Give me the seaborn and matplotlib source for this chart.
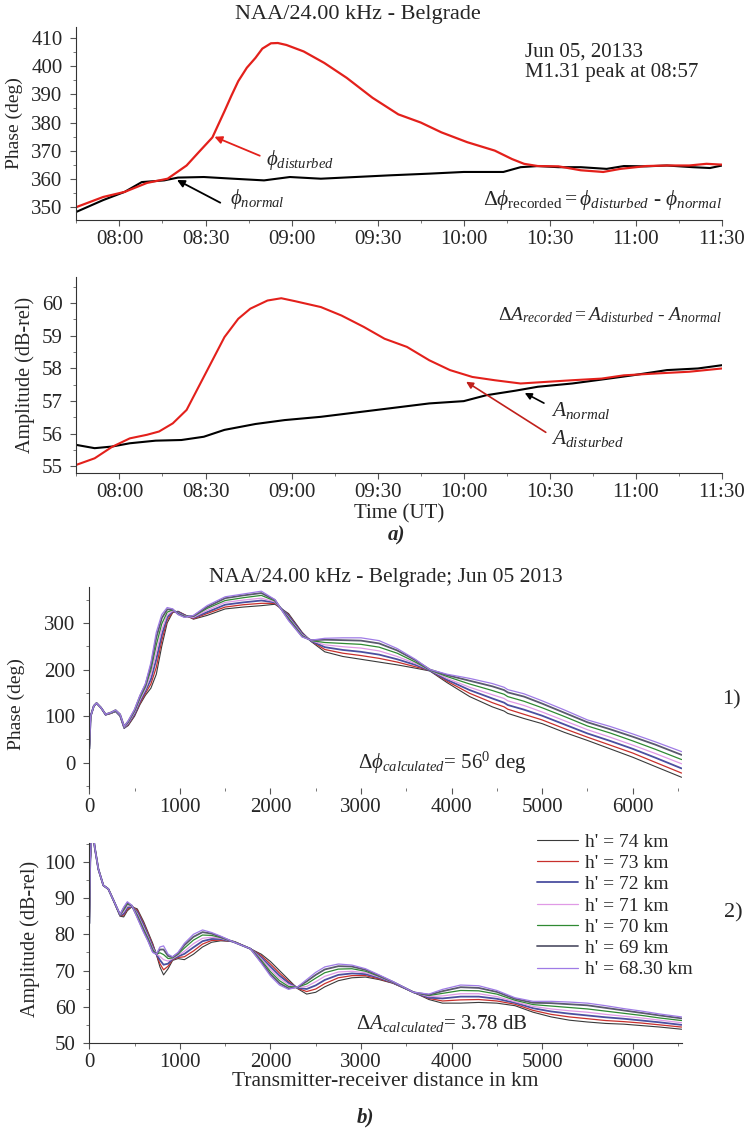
import matplotlib
matplotlib.use("Agg")
import matplotlib.pyplot as plt
import seaborn as sns
from matplotlib.ticker import MultipleLocator, FixedLocator, FixedFormatter
from matplotlib.lines import Line2D

# ---------------- data: panel a) recorded ----------------
ph_t_dist = [7.75, 7.906, 8.03, 8.16, 8.28, 8.39, 8.46, 8.54, 8.61, 8.65, 8.69, 8.74, 8.79, 8.83, 8.88, 8.92,
             8.97, 9.07, 9.19, 9.32, 9.47, 9.62, 9.75, 9.87, 10.02, 10.18, 10.28, 10.35, 10.43, 10.55, 10.68,
             10.81, 10.91, 11.06, 11.18, 11.31, 11.41, 11.5]
ph_dist = [349.9, 353.5, 355.3, 358.5, 360.0, 364.7, 369.4, 374.7, 384.0, 389.5, 394.7, 399.5, 403.0, 406.3,
           408.2, 408.3, 407.6, 405.3, 401.2, 395.9, 388.8, 382.9, 380.0, 376.5, 373.0, 370.0, 367.0, 365.3,
           364.5, 364.4, 363.0, 362.4, 363.5, 364.5, 364.7, 364.7, 365.3, 365.0]
ph_t_norm = [7.75, 7.906, 8.03, 8.13, 8.26, 8.34, 8.49, 8.66, 8.84, 8.99, 9.17, 9.37, 9.57, 9.80, 10.0,
             10.23, 10.33, 10.43, 10.55, 10.68, 10.83, 10.93, 11.06, 11.18, 11.33, 11.43, 11.5]
ph_norm = [348.2, 352.4, 355.3, 358.8, 359.4, 360.4, 360.6, 360.0, 359.4, 360.6, 360.0, 360.6, 361.2, 361.8,
           362.4, 362.4, 364.1, 364.5, 364.1, 364.1, 363.5, 364.5, 364.4, 364.7, 364.1, 363.8, 364.7]

amp_t_dist = [7.75, 7.856, 7.957, 8.06, 8.16, 8.23, 8.31, 8.39, 8.46, 8.54, 8.61, 8.69, 8.76, 8.86, 8.94,
              9.02, 9.17, 9.29, 9.42, 9.54, 9.67, 9.80, 9.92, 10.05, 10.18, 10.33, 10.48, 10.63, 10.80,
              10.93, 11.13, 11.31, 11.5]
amp_dist = [55.05, 55.25, 55.6, 55.86, 55.97, 56.07, 56.32, 56.73, 57.44, 58.25, 58.96, 59.52, 59.83, 60.08,
            60.15, 60.06, 59.88, 59.62, 59.27, 58.91, 58.66, 58.25, 57.95, 57.74, 57.64, 57.54, 57.59, 57.64,
            57.69, 57.79, 57.85, 57.9, 58.0]
amp_t_norm = [7.75, 7.856, 7.957, 8.06, 8.21, 8.36, 8.49, 8.61, 8.79, 8.96, 9.17, 9.37, 9.57, 9.80, 10.0,
              10.13, 10.30, 10.43, 10.63, 10.80, 10.98, 11.18, 11.36, 11.5]
amp_norm = [55.66, 55.56, 55.61, 55.71, 55.79, 55.81, 55.91, 56.12, 56.30, 56.42, 56.52, 56.65, 56.78, 56.93,
            57.0, 57.18, 57.32, 57.44, 57.54, 57.66, 57.79, 57.95, 58.0, 58.1]

time_ticks = [8.0, 8.5, 9.0, 9.5, 10.0, 10.5, 11.0, 11.5]
time_labels = ["08:00", "08:30", "09:00", "09:30", "10:00", "10:30", "11:00", "11:30"]

# ---------------- data: panel b) calculated ----------------
h_labels = ["74", "73", "72", "71", "70", "69", "68.30"]

dist_phase = [0, 15, 50, 80, 130, 180, 240, 290, 340, 385, 430, 500, 560, 620, 680, 740, 800, 860, 920, 980,
              1050, 1150, 1300, 1500, 1700, 1900, 2050, 2200, 2350, 2450, 2600, 2800, 3000, 3200, 3400,
              3600, 3760, 3950, 4200, 4450, 4580, 4620, 4800, 5000, 5250, 5500, 5750, 6000, 6250, 6540]
phase_74 = [30, 100, 122, 128, 118, 103, 106, 110, 100, 74, 80, 100, 125, 145, 160, 190, 250, 300, 322, 325,
            318, 308, 316, 330, 334, 337, 340, 320, 280, 260, 238, 228, 222, 216, 210, 203, 197, 172, 142, 120,
            111, 106, 95, 84, 65, 48, 30, 12, -8, -31]
phase_73 = [30, 100, 122, 128, 118, 103, 106, 111, 101, 75, 82, 103, 128, 149, 169, 205, 262, 306, 323, 324,
            317, 309, 320, 334, 339, 342, 342, 317, 278, 261, 243, 235, 230, 224, 216, 206, 198, 175, 149, 129,
            120, 115, 104, 92, 73, 55, 38, 21, 1, -22]
phase_72 = [30, 100, 122, 128, 118, 103, 107, 111, 101, 75, 84, 105, 132, 154, 179, 222, 274, 312, 325, 323,
            316, 311, 323, 339, 344, 348, 344, 315, 277, 261, 248, 242, 238, 232, 222, 210, 198, 178, 156, 138,
            129, 124, 114, 101, 82, 63, 47, 30, 11, -12]
phase_71 = [30, 100, 122, 128, 118, 104, 107, 112, 102, 76, 85, 108, 135, 158, 189, 237, 285, 317, 326, 321,
            315, 312, 327, 344, 349, 353, 345, 312, 275, 262, 253, 249, 246, 240, 228, 213, 199, 181, 162, 146,
            138, 133, 123, 109, 90, 71, 55, 38, 20, -2]
phase_70 = [30, 100, 122, 128, 118, 104, 107, 112, 103, 77, 87, 111, 139, 163, 199, 253, 298, 323, 328, 320,
            314, 314, 331, 348, 354, 359, 347, 310, 273, 262, 258, 256, 254, 248, 235, 216, 199, 185, 169, 155,
            147, 142, 132, 118, 99, 79, 64, 47, 29, 7]
phase_69 = [30, 100, 122, 128, 118, 104, 108, 113, 104, 78, 89, 113, 143, 167, 208, 269, 310, 329, 329, 319,
            313, 315, 334, 353, 359, 364, 349, 307, 271, 263, 264, 263, 262, 256, 241, 220, 200, 188, 176, 164,
            156, 151, 142, 127, 107, 87, 72, 56, 39, 17]
phase_6830 = [30, 100, 122, 128, 118, 104, 108, 113, 104, 78, 90, 115, 145, 170, 215, 280, 318, 333, 330, 318,
              312, 316, 337, 356, 362, 368, 350, 305, 270, 263, 267, 268, 268, 262, 245, 222, 200, 190, 181, 170,
              162, 157, 148, 133, 113, 92, 78, 62, 45, 24]

dist_amp = [0, 10, 30, 60, 100, 155, 210, 265, 340, 380, 420, 470, 530, 600, 650, 700, 740, 780, 820, 870,
            920, 980, 1050, 1150, 1250, 1350, 1450, 1600, 1780, 1900, 2000, 2100, 2200, 2300, 2400, 2500,
            2600, 2750, 2900, 3050, 3200, 3350, 3580, 3750, 3900, 4100, 4300, 4500, 4700, 4900, 5100, 5300,
            5500, 5700, 5900, 6100, 6300, 6540]
amp_74 = [83, 100, 110, 104, 98, 93.5, 92.5, 89.5, 85, 84.8, 86.5, 87.6, 87, 83.5, 80.5, 77.5, 74.5, 71, 68.8,
          70.5, 72.8, 73.3, 73, 74.5, 76.5, 77.8, 78.2, 78, 76, 74.5, 72.5, 70, 67.5, 65, 63.5, 64, 65.5, 67.2,
          68, 68.2, 67.5, 66.5, 64, 62, 61, 61, 61.2, 61, 60.3, 58.5, 57.2, 56.3, 55.8, 55.4, 55.2, 54.8, 54.4,
          53.8]
amp_73 = [83, 100, 110, 104, 98, 93.5, 92.5, 89.5, 85.1, 85.3, 86.9, 87.7, 86.6, 83.0, 80.1, 77.1, 74.5, 71.9,
          70.2, 71.2, 73.0, 73.6, 73.8, 75.4, 77.3, 78.3, 78.4, 78.0, 76, 74.1, 71.8, 69.3, 67.0, 65.1, 64.2,
          64.9, 66.4, 68.0, 68.6, 68.6, 67.7, 66.6, 64, 62.3, 61.6, 61.9, 62.0, 61.6, 60.7, 59.0, 57.9, 57.2,
          56.7, 56.2, 55.9, 55.5, 55.0, 54.4]
amp_72 = [83, 100, 110, 104, 98, 93.5, 92.5, 89.5, 85.2, 85.7, 87.4, 87.7, 86.1, 82.5, 79.6, 76.6, 74.5, 72.9,
          71.6, 71.9, 73.2, 73.9, 74.6, 76.4, 78.1, 78.7, 78.7, 77.9, 76, 73.6, 71.1, 68.6, 66.6, 65.2, 64.9,
          65.9, 67.4, 68.8, 69.2, 69.0, 68.0, 66.7, 64, 62.5, 62.3, 62.8, 62.8, 62.2, 61.1, 59.6, 58.7, 58.1,
          57.6, 57.1, 56.7, 56.2, 55.7, 55.0]
amp_71 = [83, 100, 110, 104, 98, 93.5, 92.5, 89.5, 85.3, 86.2, 87.8, 87.8, 85.7, 81.9, 79.2, 76.2, 74.5, 73.9,
          73.0, 72.6, 73.3, 74.2, 75.3, 77.4, 78.9, 79.2, 78.9, 77.9, 76, 73.2, 70.4, 67.9, 66.1, 65.3, 65.6,
          66.9, 68.4, 69.6, 69.8, 69.4, 68.2, 66.8, 64, 62.8, 63.0, 63.6, 63.6, 62.8, 61.4, 60.1, 59.4, 58.9,
          58.5, 57.9, 57.4, 56.9, 56.3, 55.6]
amp_70 = [83, 100, 110, 104, 98, 93.5, 92.5, 89.5, 85.3, 86.7, 88.3, 87.9, 85.3, 81.4, 78.8, 75.8, 74.5, 74.9,
          74.4, 73.3, 73.5, 74.5, 76.2, 78.4, 79.8, 79.7, 79.1, 77.9, 76, 72.8, 69.7, 67.2, 65.6, 65.4, 66.3,
          67.9, 69.4, 70.4, 70.5, 69.8, 68.4, 66.9, 64, 63.1, 63.7, 64.5, 64.4, 63.5, 61.8, 60.6, 60.2, 59.8,
          59.4, 58.8, 58.2, 57.6, 56.9, 56.2]
amp_69 = [83, 100, 110, 104, 98, 93.5, 92.5, 89.5, 85.4, 87.2, 88.7, 87.9, 84.8, 80.9, 78.3, 75.3, 74.5, 75.8,
          75.8, 74.0, 73.7, 74.8, 77.0, 79.3, 80.6, 80.2, 79.3, 77.8, 76, 72.3, 69.0, 66.5, 65.1, 65.4, 67.0,
          68.8, 70.3, 71.2, 71.1, 70.2, 68.6, 66.9, 64, 63.3, 64.3, 65.4, 65.2, 64.1, 62.2, 61.1, 61.0, 60.7,
          60.4, 59.7, 59.0, 58.3, 57.6, 56.8]
amp_6830 = [83, 100, 110, 104, 98, 93.5, 92.5, 89.5, 85.5, 87.5, 89, 88, 84.5, 80.5, 78, 75, 74.5, 76.5, 76.8,
            74.5, 73.8, 75, 77.5, 80, 81.2, 80.5, 79.5, 77.8, 76, 72, 68.5, 66, 64.8, 65.5, 67.5, 69.5, 71,
            71.8, 71.5, 70.5, 68.8, 67, 64, 63.5, 64.8, 66, 65.8, 64.5, 62.5, 61.5, 61.5, 61.3, 61, 60.3,
            59.5, 58.8, 58, 57.2]

phase_curves = [phase_74, phase_73, phase_72, phase_71, phase_70, phase_69, phase_6830]
amp_curves = [amp_74, amp_73, amp_72, amp_71, amp_70, amp_69, amp_6830]

# ---------------- style ----------------
sns.set_style("ticks")
plt.rcParams["font.family"] = ["Liberation Serif", "DejaVu Serif"]
plt.rcParams["mathtext.fontset"] = "custom"
plt.rcParams["mathtext.rm"] = "Liberation Serif"
plt.rcParams["mathtext.it"] = "Liberation Serif:italic"
plt.rcParams["mathtext.bf"] = "Liberation Serif:bold"

h_colors = ["#3a3a3a", "#c8302c", "#4b4fa0", "#e09ae6", "#2f8a32", "#5a5a6e", "#9f7be6"]
h_widths = [0.8, 0.9, 1.3, 0.9, 0.9, 1.3, 0.9]
RED = "#e3201b"
TICK_FS = 15

fig = plt.figure(figsize=(7.47, 11.28), dpi=100)
W, H = 747.0, 1128.0


def axes_px(left, top, right, bottom):
    return fig.add_axes([left / W, 1 - bottom / H, (right - left) / W, (bottom - top) / H])


ax1 = axes_px(76.4, 27, 722, 220)
ax2 = axes_px(76.4, 277, 722, 473)
ax3 = axes_px(89.3, 587, 681.6, 788)
ax4 = axes_px(89.3, 843, 681.6, 1043)

for ax in (ax1, ax2, ax3, ax4):
    for s in ("top", "right"):
        ax.spines[s].set_visible(False)
    for s in ("left", "bottom"):
        ax.spines[s].set_color("#333333")
        ax.spines[s].set_linewidth(0.8)
    ax.tick_params(which="major", direction="out", length=4, width=0.8, color="#555555",
                   labelsize=TICK_FS)
    ax.tick_params(axis="y", which="major", pad=6)
    ax.tick_params(axis="x", which="major", pad=3)
    ax.tick_params(which="minor", direction="out", length=2.5, width=0.7, color="#777777")

# ---------------- panel 1: phase ----------------
sns.lineplot(x=ph_t_norm, y=ph_norm, ax=ax1, color="black", lw=1.5, sort=False, estimator=None)
sns.lineplot(x=ph_t_dist, y=ph_dist, ax=ax1, color=RED, lw=1.6, sort=False, estimator=None)
ax1.set_xlim(7.75, 11.5)
ax1.set_ylim(345.3, 414)
ax1.yaxis.set_major_locator(MultipleLocator(10))
ax1.yaxis.set_minor_locator(MultipleLocator(5))
ax1.xaxis.set_major_locator(FixedLocator(time_ticks))
ax1.xaxis.set_major_formatter(FixedFormatter(time_labels))
ax1.xaxis.set_minor_locator(MultipleLocator(0.25))
ax1.set_ylabel("Phase (deg)", fontsize=14)
ax1.yaxis.set_label_coords(-0.083, 0.5)
ax1.set_xlabel("")
fig.text(358 / W, 1 - 15 / H, "NAA/24.00 kHz - Belgrade", ha="center", va="center", fontsize=16)
ax1.text(10.357, 405, "Jun 05, 20133", fontsize=15, va="center", ha="left")
ax1.text(10.357, 397.8, "M1.31 peak at 08:57", fontsize=15, va="center", ha="left")
ax1.annotate("", xy=(8.537, 375.3), xytext=(8.83, 367.8),
             arrowprops=dict(arrowstyle="-|>", color=RED, lw=1.3, mutation_scale=11))
ax1.text(8.852, 366.5, r"$\phi_{\mathit{disturbed}}$", fontsize=15, ha="left", va="center")
ax1.annotate("", xy=(8.32, 360.0), xytext=(8.6, 351.0),
             arrowprops=dict(arrowstyle="-|>", color="black", lw=1.3, mutation_scale=11))
ax1.text(8.64, 352.9, r"$\phi_{\mathit{normal}}$", fontsize=15, ha="left", va="center")
ax1.text(11.5, 352.4,
         r"$\mathit{\Delta\phi}_{\mathrm{recorded}} = \phi_{\mathit{disturbed}}$ - $\phi_{\mathit{normal}}$",
         fontsize=15.5, ha="right", va="center")

# ---------------- panel 2: amplitude ----------------
sns.lineplot(x=amp_t_norm, y=amp_norm, ax=ax2, color="black", lw=1.5, sort=False, estimator=None)
sns.lineplot(x=amp_t_dist, y=amp_dist, ax=ax2, color=RED, lw=1.5, sort=False, estimator=None)
ax2.set_xlim(7.75, 11.5)
ax2.set_ylim(54.8, 60.8)
ax2.yaxis.set_major_locator(MultipleLocator(1))
ax2.yaxis.set_minor_locator(MultipleLocator(0.5))
ax2.xaxis.set_major_locator(FixedLocator(time_ticks))
ax2.xaxis.set_major_formatter(FixedFormatter(time_labels))
ax2.xaxis.set_minor_locator(MultipleLocator(0.25))
ax2.set_ylabel("Amplitude (dB-rel)", fontsize=14.5)
ax2.yaxis.set_label_coords(-0.064, 0.5)
ax2.set_xlabel("Time (UT)", fontsize=15, labelpad=2)
ax2.text(11.5, 59.62,
         r"$\mathit{\Delta A}_{\mathit{recorded}} = \mathit{A}_{\mathit{disturbed}}$ - $\mathit{A}_{\mathit{normal}}$",
         fontsize=14, ha="right", va="center")
ax2.annotate("", xy=(10.34, 57.29), xytext=(10.48, 56.9),
             arrowprops=dict(arrowstyle="-|>", color="black", lw=1.2, mutation_scale=10))
ax2.text(10.504, 56.72, r"$\mathit{A}_{\mathit{normal}}$", fontsize=15.5, ha="left", va="center")
ax2.annotate("", xy=(10.0, 57.64), xytext=(10.49, 56.0),
             arrowprops=dict(arrowstyle="-|>", color="#c0201b", lw=1.2, mutation_scale=10))
ax2.text(10.504, 55.86, r"$\mathit{A}_{\mathit{disturbed}}$", fontsize=15.5, ha="left", va="center")
fig.text(396 / W, 1 - 535 / H, "a)", ha="center", va="center", fontsize=15,
         fontweight="bold", fontstyle="italic")

# ---------------- panel 3: calculated phase ----------------
for h, vals, c, lw in zip(h_labels, phase_curves, h_colors, h_widths):
    sns.lineplot(x=dist_phase, y=vals, ax=ax3, color=c, lw=lw, sort=False, estimator=None)
ax3.set_xlim(0, 6540)
ax3.set_ylim(-54, 377)
ax3.spines["bottom"].set_visible(False)
ax3.yaxis.set_major_locator(MultipleLocator(100))
ax3.yaxis.set_minor_locator(MultipleLocator(50))
ax3.xaxis.set_major_locator(MultipleLocator(1000))
ax3.xaxis.set_minor_locator(MultipleLocator(500))
ax3.set_ylabel("Phase (deg)", fontsize=14)
ax3.yaxis.set_label_coords(-0.108, 0.42)
ax3.set_title("NAA/24.00 kHz - Belgrade; Jun 05 2013", fontsize=15.5, pad=2)
ax3.text(2966, 0, r"$\mathit{\Delta\phi}_{\mathit{calculated}}$= 56$^0$ deg", fontsize=15,
         ha="left", va="center")
fig.text(731 / W, 1 - 700 / H, "1)", ha="center", va="center", fontsize=16)

# ---------------- panel 4: calculated amplitude ----------------
handles = []
for h, vals, c, lw in zip(h_labels, amp_curves, h_colors, h_widths):
    sns.lineplot(x=dist_amp, y=vals, ax=ax4, color=c, lw=lw, sort=False, estimator=None)
    handles.append(Line2D([0], [0], color=c, lw=lw))
ax4.set_xlim(0, 6540)
ax4.set_ylim(50, 105.2)
ax4.yaxis.set_major_locator(MultipleLocator(10))
ax4.yaxis.set_minor_locator(MultipleLocator(5))
ax4.xaxis.set_major_locator(MultipleLocator(1000))
ax4.xaxis.set_minor_locator(MultipleLocator(500))
ax4.set_ylabel("Amplitude (dB-rel)", fontsize=14.5)
ax4.yaxis.set_label_coords(-0.083, 0.52)
ax4.set_xlabel("Transmitter-receiver distance in km", fontsize=15.5, labelpad=0)
ax4.text(2950, 55.5, r"$\mathit{\Delta A}_{\mathit{calculated}}$= 3.78 dB", fontsize=15,
         ha="left", va="center")
fig.legend(handles, [f"h' = {h} km" for h in h_labels], loc="upper left",
           bbox_to_anchor=(537 / W, 1 - 833 / H), frameon=False, fontsize=14,
           handlelength=2.1, handletextpad=0.35, labelspacing=0.19, borderpad=0, borderaxespad=0)
fig.text(733 / W, 1 - 913 / H, "2)", ha="center", va="center", fontsize=16)
fig.text(365 / W, 1 - 1117 / H, "b)", ha="center", va="center", fontsize=15,
         fontweight="bold", fontstyle="italic")

fig.savefig("out.png", dpi=100)
